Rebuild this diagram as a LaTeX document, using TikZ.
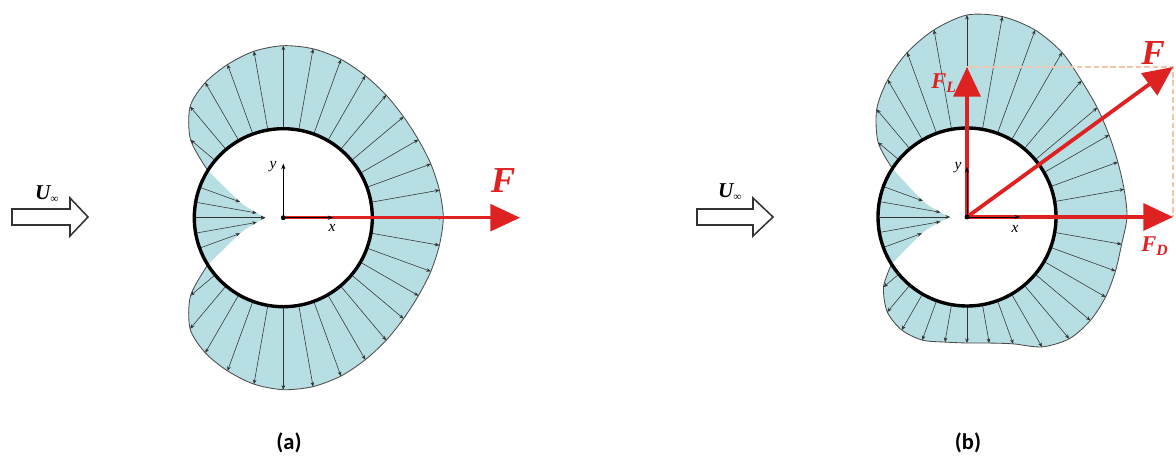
\documentclass[tikz,border=0pt]{standalone}
\usepackage{fontspec}
\setmainfont{Liberation Serif}
\newfontfamily\capfont{Carlito}
\usetikzlibrary{arrows.meta}
\definecolor{bluefill}{RGB}{183,222,227}
\definecolor{redc}{RGB}{222,34,34}
\definecolor{dashc}{RGB}{246,196,168}
\definecolor{arrc}{RGB}{50,50,50}
\begin{document}
\begin{tikzpicture}[x=0.025cm, y=0.025cm,
  radarrow/.style={draw=arrc, line width=0.4pt, -{Stealth[length=3.2pt,width=2.6pt]}},
  ring/.style={draw=black, line width=2.4pt},
  rimline/.style={draw=black!70, line width=0.6pt},
  forcearrow/.style={draw=redc, line width=2.7pt, -{Triangle[length=21pt,width=19pt]}},
  axarrow/.style={draw=black, line width=0.5pt, -{Stealth[length=4pt,width=3pt]}},
  guideline/.style={draw=dashc, line width=0.8pt, dash pattern=on 4pt off 2pt},
  flowarrow/.style={draw=black!80, line width=1.1pt, fill=white, line join=miter},
  flab/.style={text=redc, inner sep=0pt},
  axlab/.style={inner sep=0pt, font=\fontsize{11}{11}\selectfont\itshape},
  ulab/.style={inner sep=0pt, font=\fontsize{15}{15}\selectfont\bfseries\itshape},
  caplab/.style={inner sep=0pt, font=\fontsize{16}{16}\selectfont\capfont\bfseries},
  cdot/.style={fill=black, circle, inner sep=0pt, minimum size=3.5pt}
]
\useasboundingbox (0,0) rectangle (1176,459);

% ---------- panel (a) ----------
\begin{scope}[shift={(283.3,241.3)}]
  \fill[bluefill, even odd rule]
    plot[smooth] coordinates {(148:89) (140:121) (130:145) (120:156) (110:163) (100:169) (90:172) (80:171.5) (70:168.5) (60:164) (50:160) (40:157) (30:156) (20:157) (10:158.5) (0:160) (-10:158.5) (-20:157) (-30:156) (-40:157) (-50:160) (-60:164) (-70:168.5) (-80:171.5) (-90:172) (-100:169) (-110:163) (-120:156) (-130:145) (-140:121) (-148:89)}
    -- plot[smooth] coordinates {(-148:89) (-160:46) (-170:27) (180:18) (170:27) (160:46) (148:89)}
    -- cycle
    (0,0) circle[radius=89];
  \draw[rimline] plot[smooth] coordinates {(148:89) (140:121) (130:145) (120:156) (110:163) (100:169) (90:172) (80:171.5) (70:168.5) (60:164) (50:160) (40:157) (30:156) (20:157) (10:158.5) (0:160) (-10:158.5) (-20:157) (-30:156) (-40:157) (-50:160) (-60:164) (-70:168.5) (-80:171.5) (-90:172) (-100:169) (-110:163) (-120:156) (-130:145) (-140:121) (-148:89)};
  \foreach \a/\d in {0/160,10/158.5,20/157,30/156,40/157,50/160,60/164,70/168.5,80/171.5,90/172,100/169,110/163,120/156,130/145,140/121,160/46,170/27,180/18}{
    \draw[radarrow] (\a:89) -- (\a:\d);
    \draw[radarrow] (-\a:89) -- (-\a:\d);
  }
  \draw[ring] (0,0) circle[radius=89];
  \coordinate (Ac) at (0,0);
  \coordinate (AFtip) at (236.7,0);
  \coordinate (Axtip) at (50,0);
  \coordinate (Aytip) at (0,54);
  \draw[forcearrow, line width=2.2pt] (Ac) -- (AFtip);
  \draw[axarrow] (Ac) -- (Axtip);
  \draw[axarrow] (Ac) -- (Aytip);
  \node[cdot] (Adot) at (Ac) {};
\end{scope}
\node[flab, font=\fontsize{26}{26}\selectfont\bfseries\itshape] (AF) at (503,278) {F};
\node[axlab] (Ay) at (273,292) {y};
\node[axlab] (Ax) at (332,231) {x};
\draw[flowarrow] (12,250) -- (70,250) -- (70,261) -- (88,242) -- (70,223) -- (70,234) -- (12,234) -- cycle;
\node[ulab] (AU) at (47,265) {U\textsubscript{\fontsize{8}{8}\selectfont ∞}};
\node[caplab] (Acap) at (289,16) {(a)};

% ---------- panel (b) ----------
\begin{scope}[shift={(967,242)}]
  \fill[bluefill, even odd rule]
    plot[smooth] coordinates {(147:89) (140:116) (130:140.5) (120:158.5) (110:175) (100:190) (90:202) (80:203.5) (70:199) (60:190) (50:178) (40:170) (30:164) (20:160.5) (10:159.5) (0:160) (-10:157) (-20:158) (-30:160) (-40:161) (-50:159) (-60:150) (-70:135) (-80:128) (-90:126) (-100:127) (-110:131) (-120:130.5) (-130:124) (-140:109) (-148:89)}
    -- plot[smooth] coordinates {(-148:89) (-160:48) (-170:27) (180:17) (170:27) (160:47) (147:89)}
    -- cycle
    (0,0) circle[radius=89];
  \draw[rimline] plot[smooth] coordinates {(147:89) (140:116) (130:140.5) (120:158.5) (110:175) (100:190) (90:202) (80:203.5) (70:199) (60:190) (50:178) (40:170) (30:164) (20:160.5) (10:159.5) (0:160) (-10:157) (-20:158) (-30:160) (-40:161) (-50:159) (-60:150) (-70:135) (-80:128) (-90:126) (-100:127) (-110:131) (-120:130.5) (-130:124) (-140:109) (-148:89)};
  \foreach \a/\d in {140/116,130/140.5,120/158.5,110/175,100/190,90/202,80/203.5,70/199,60/190,50/178,40/170,30/164,20/160.5,10/159.5,0/160,-10/157,-20/158,-30/160,-40/161,-50/159,-60/150,-70/135,-80/128,-90/126,-100/127,-110/131,-120/130.5,-130/124,-140/109,-160/48,-170/27,180/17,170/27,160/47}{
    \draw[radarrow] (\a:89) -- (\a:\d);
  }
  \draw[ring] (0,0) circle[radius=89];
  \coordinate (Bc) at (0,0);
  \coordinate (FLtip) at (0,150);
  \coordinate (FDtip) at (206,0);
  \coordinate (Ftip) at (206,150);
  \coordinate (Bxtip) at (53,0);
  \coordinate (Bytip) at (0,50);
  \draw[guideline] (FLtip) -- (Ftip) -- (FDtip);
  \draw[forcearrow] (Bc) -- (FLtip);
  \draw[forcearrow] (Bc) -- (FDtip);
  \draw[forcearrow] (Bc) -- (Ftip);
  \draw[axarrow] (Bc) -- (Bxtip);
  \draw[axarrow] (Bc) -- (Bytip);
  \node[cdot] (Bdot) at (Bc) {};
\end{scope}
\node[flab, font=\fontsize{25}{25}\selectfont\bfseries\itshape] (BF) at (1153,406) {F};
\node[flab, font=\fontsize{16}{16}\selectfont\bfseries\itshape] (BFL) at (944,376) {F\textsubscript{L}};
\node[flab, font=\fontsize{16}{16}\selectfont\bfseries\itshape] (BFD) at (1155,213) {F\textsubscript{D}};
\node[axlab] (By) at (958,291) {y};
\node[axlab] (Bx) at (1015,230) {x};
\draw[flowarrow] (697,250) -- (753,250) -- (753,261) -- (773,242) -- (753,223) -- (753,234) -- (697,234) -- cycle;
\node[ulab] (BU) at (730,267) {U\textsubscript{\fontsize{8}{8}\selectfont ∞}};
\node[caplab] (Bcap) at (968,16) {(b)};
\end{tikzpicture}
\end{document}
